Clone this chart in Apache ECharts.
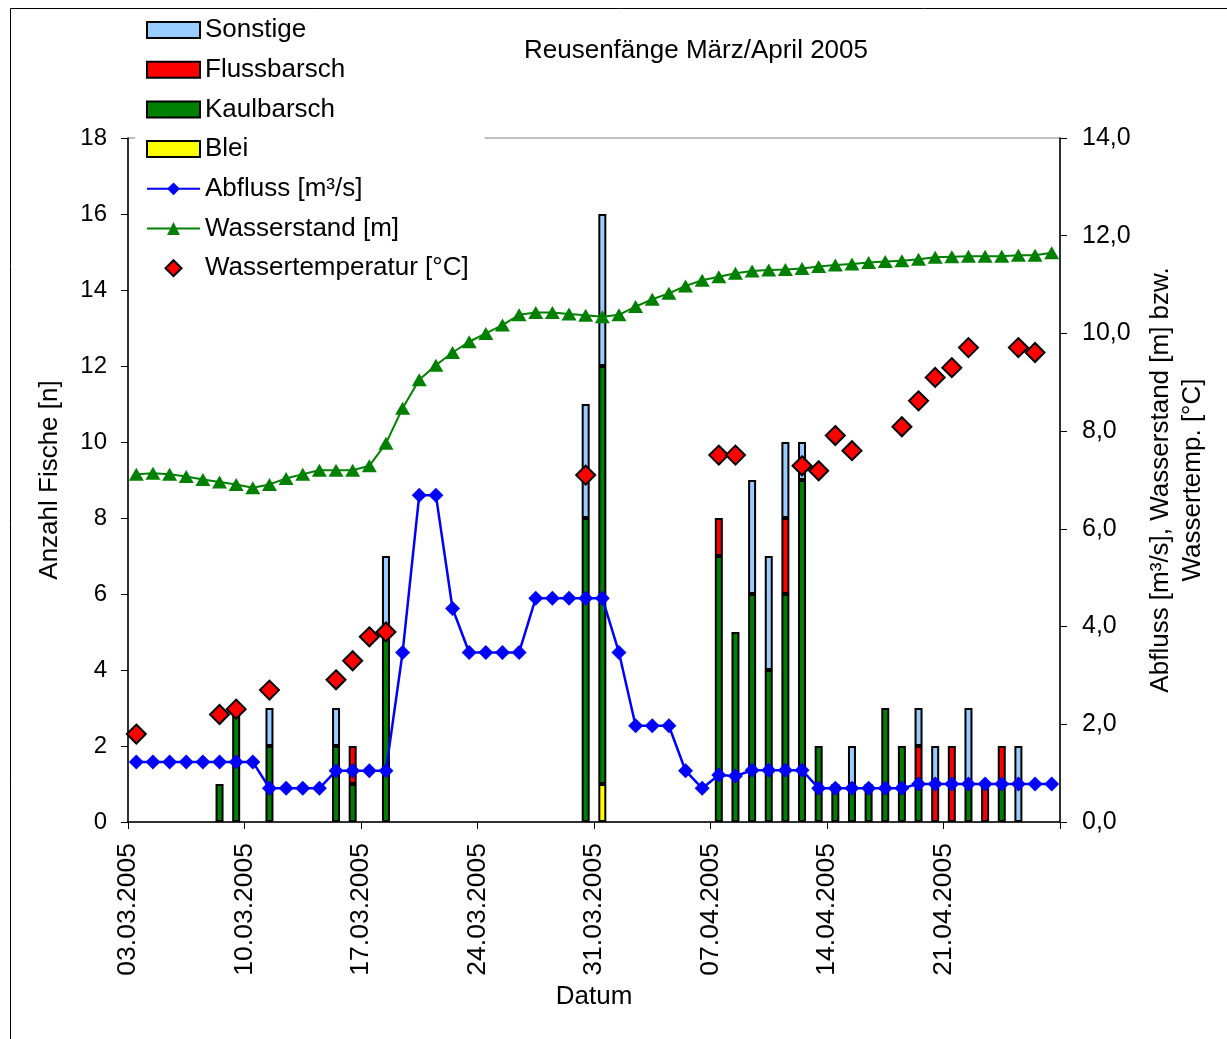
<!DOCTYPE html>
<html>
<head>
<meta charset="utf-8">
<script src="https://cdn.jsdelivr.net/npm/echarts@6/dist/echarts.min.js"></script>
<style>
  html, body { margin: 0; padding: 0; background: #ffffff; }
  #chart { width: 1227px; height: 1039px; }
</style>
</head>
<body>
<div id="chart"></div>
<script>
// Daily catch dates (one category per day)
const dates = [
  '03.03.2005','04.03.2005','05.03.2005','06.03.2005','07.03.2005','08.03.2005','09.03.2005',
  '10.03.2005','11.03.2005','12.03.2005','13.03.2005','14.03.2005','15.03.2005','16.03.2005',
  '17.03.2005','18.03.2005','19.03.2005','20.03.2005','21.03.2005','22.03.2005','23.03.2005',
  '24.03.2005','25.03.2005','26.03.2005','27.03.2005','28.03.2005','29.03.2005','30.03.2005',
  '31.03.2005','01.04.2005','02.04.2005','03.04.2005','04.04.2005','05.04.2005','06.04.2005',
  '07.04.2005','08.04.2005','09.04.2005','10.04.2005','11.04.2005','12.04.2005','13.04.2005',
  '14.04.2005','15.04.2005','16.04.2005','17.04.2005','18.04.2005','19.04.2005','20.04.2005',
  '21.04.2005','22.04.2005','23.04.2005','24.04.2005','25.04.2005','26.04.2005','27.04.2005'
];

// Weekly date ticks
const tickLabels = ['03.03.2005','10.03.2005','17.03.2005','24.03.2005',
                    '31.03.2005','07.04.2005','14.04.2005','21.04.2005'];

// Catch counts per species (stacked: Blei, Kaulbarsch, Flussbarsch, Sonstige)
const blei = [
  null,null,null,null,null,null,null,
  null,null,null,null,null,null,null,
  null,null,null,null,null,null,null,
  null,null,null,null,null,null,null,
  1,null,null,null,null,null,null,
  null,null,null,null,null,null,null,
  null,null,null,null,null,null,null,
  null,null,null,null,null,null,null
];
const kaulbarsch = [
  null,null,null,null,null,1,3,
  null,2,null,null,null,2,1,
  null,5,null,null,null,null,null,
  null,null,null,null,null,null,8,
  11,null,null,null,null,null,null,
  7,5,6,4,6,9,2,
  1,1,1,3,2,1,null,
  null,1,null,1,null,null,null
];
const flussbarsch = [
  null,null,null,null,null,null,null,
  null,null,null,null,null,null,1,
  null,null,null,null,null,null,null,
  null,null,null,null,null,null,null,
  null,null,null,null,null,null,null,
  1,null,null,null,2,null,null,
  null,null,null,null,null,1,1,
  2,null,1,1,null,null,null
];
const sonstige = [
  null,null,null,null,null,null,null,
  null,1,null,null,null,1,null,
  null,2,null,null,null,null,null,
  null,null,null,null,null,null,3,
  4,null,null,null,null,null,null,
  null,null,3,3,2,1,null,
  null,1,null,null,null,1,1,
  null,2,null,null,2,null,null
];

// Discharge [m³/s]
const abfluss = [
  1.23,1.23,1.23,1.23,1.23,1.23,1.23,
  1.23,0.69,0.69,0.69,0.69,1.05,1.05,
  1.05,1.05,3.47,6.69,6.69,4.37,3.47,
  3.47,3.47,3.47,4.58,4.58,4.58,4.58,
  4.58,3.47,1.97,1.97,1.97,1.05,0.69,
  0.96,0.94,1.06,1.06,1.06,1.06,0.69,
  0.69,0.69,0.69,0.69,0.69,0.78,0.78,
  0.78,0.78,0.78,0.78,0.78,0.78,0.78
];

// Water level [m]
const wasserstand = [
  7.12,7.14,7.12,7.07,7.01,6.96,6.91,
  6.84,6.91,7.03,7.12,7.20,7.20,7.20,
  7.29,7.75,8.47,9.05,9.35,9.61,9.83,
  10.00,10.17,10.38,10.43,10.43,10.40,10.37,
  10.34,10.38,10.55,10.70,10.82,10.97,11.09,
  11.16,11.23,11.28,11.30,11.31,11.33,11.37,
  11.40,11.42,11.45,11.47,11.49,11.52,11.56,
  11.57,11.58,11.58,11.58,11.60,11.60,11.65
];

// Water temperature [°C]
const temperatur = [
  1.80,null,null,null,null,2.20,2.31,
  null,2.70,null,null,null,2.91,3.30,
  3.79,3.89,null,null,null,null,null,
  null,null,null,null,null,null,7.10,
  null,null,null,null,null,null,null,
  7.51,7.51,null,null,null,7.29,7.19,
  7.91,7.60,null,null,8.09,8.62,9.10,
  9.30,9.71,null,null,9.71,9.61,null
];

const FONT = '"Liberation Sans", Arial, sans-serif';
const chart = echarts.init(document.getElementById('chart'), null, { renderer: 'canvas' });

const barBase = {
  type: 'bar',
  stack: 'fang',
  xAxisIndex: 0,
  yAxisIndex: 0,
  barWidth: 8,
  itemStyle: { borderColor: '#000000', borderWidth: 2 }
};

function barSeries(name, data, color) {
  return Object.assign({}, barBase, {
    name: name,
    data: data,
    itemStyle: Object.assign({}, barBase.itemStyle, { color: color })
  });
}

const option = {
  animation: false,
  backgroundColor: '#ffffff',
  textStyle: { fontFamily: FONT, color: '#000000' },
  title: {
    text: 'Reusenfänge März/April 2005',
    left: 519,
    top: 33,
    textStyle: { fontFamily: FONT, fontSize: 26, fontWeight: 'normal', color: '#000000' }
  },
  graphic: [{
    type: 'rect',
    shape: { x: 10.5, y: 8.5, width: 1400, height: 1200 },
    style: { fill: 'none', stroke: '#000000', lineWidth: 1 },
    silent: true,
    z: -10
  }],
  legend: {
    orient: 'vertical',
    left: 135,
    top: 9,
    padding: [8, 16, 8, 11],
    backgroundColor: '#ffffff',
    itemWidth: 53,
    itemHeight: 16,
    itemGap: 13.7,
    symbolKeepAspect: true,
    textStyle: { fontFamily: FONT, fontSize: 26, lineHeight: 24, color: '#000000' },
    data: [
      { name: 'Sonstige', icon: 'rect' },
      { name: 'Flussbarsch', icon: 'rect' },
      { name: 'Kaulbarsch', icon: 'rect' },
      { name: 'Blei', icon: 'rect' },
      'Abfluss [m³/s]', 'Wasserstand [m]',
      { name: 'Wassertemperatur [°C]', icon: 'path://M0,-9L9,0L0,9L-9,0Z' }
    ],
    z: 10
  },
  grid: {
    left: 128, right: 167, top: 138, bottom: 217,
    show: true, borderColor: '#808080', borderWidth: 1, backgroundColor: 'transparent'
  },
  xAxis: [{
    type: 'category',
    data: dates,
    boundaryGap: true,
    axisLine: { lineStyle: { color: '#000000', width: 1.5 } },
    axisTick: { show: false },
    axisLabel: { show: false },
    splitLine: { show: false }
  }, {
    type: 'value',
    position: 'bottom',
    min: 0,
    max: dates.length,
    interval: 7,
    axisLine: { show: false },
    axisTick: { show: true, length: 7, lineStyle: { color: '#000000', width: 1 } },
    splitLine: { show: false },
    axisLabel: {
      rotate: 90,
      margin: 21,
      fontFamily: FONT,
      fontSize: 26.5,
      color: '#000000',
      formatter: v => tickLabels[v / 7] || ''
    },
    name: 'Datum',
    nameLocation: 'middle',
    nameGap: 160,
    nameTextStyle: { fontFamily: FONT, fontSize: 26, color: '#000000' }
  }],
  yAxis: [{
    type: 'value',
    position: 'left',
    min: 0, max: 18, interval: 2,
    axisLine: { show: true, lineStyle: { color: '#000000', width: 1.5 } },
    axisTick: { show: true, length: 7, lineStyle: { color: '#000000' } },
    splitLine: { show: false },
    axisLabel: { margin: 21, fontFamily: FONT, fontSize: 24, color: '#000000' },
    name: 'Anzahl Fische [n]',
    nameLocation: 'middle',
    nameRotate: 90,
    nameGap: 65,
    nameTextStyle: { fontFamily: FONT, fontSize: 26, color: '#000000' }
  }, {
    type: 'value',
    position: 'right',
    min: 0, max: 14, interval: 2,
    axisLine: { show: true, lineStyle: { color: '#000000', width: 1.5 } },
    axisTick: { show: true, length: 7, lineStyle: { color: '#000000' } },
    splitLine: { show: false },
    axisLabel: {
      margin: 22, fontFamily: FONT, fontSize: 25, color: '#000000',
      formatter: v => v.toFixed(1).replace('.', ',')
    },
    name: 'Abfluss [m³/s], Wasserstand [m] bzw.\nWassertemp. [°C]',
    nameLocation: 'middle',
    nameRotate: 90,
    nameGap: 85,
    nameTextStyle: { fontFamily: FONT, fontSize: 26, lineHeight: 32, color: '#000000', align: 'center' }
  }],
  series: [
    barSeries('Blei', blei, '#ffff00'),
    barSeries('Kaulbarsch', kaulbarsch, '#008000'),
    barSeries('Flussbarsch', flussbarsch, '#ff0000'),
    barSeries('Sonstige', sonstige, '#99ccff'),
    {
      name: 'Abfluss [m³/s]',
      type: 'line',
      xAxisIndex: 0, yAxisIndex: 1,
      data: abfluss,
      symbol: 'diamond',
      symbolSize: 15,
      showSymbol: true,
      showAllSymbol: true,
      lineStyle: { color: '#0000ff', width: 2.5 },
      itemStyle: { color: '#0000ff', borderWidth: 0 }
    },
    {
      name: 'Wasserstand [m]',
      type: 'line',
      xAxisIndex: 0, yAxisIndex: 1,
      data: wasserstand,
      symbol: 'triangle',
      symbolSize: [15, 13],
      showSymbol: true,
      showAllSymbol: true,
      lineStyle: { color: '#008000', width: 2 },
      itemStyle: { color: '#008000', borderWidth: 0 }
    },
    {
      name: 'Wassertemperatur [°C]',
      type: 'scatter',
      xAxisIndex: 0, yAxisIndex: 1,
      data: temperatur,
      symbol: 'diamond',
      symbolSize: 19,
      itemStyle: { color: '#ff0000', borderColor: '#000000', borderWidth: 2, opacity: 1 }
    }
  ]
};

chart.setOption(option);
</script>
</body>
</html>
